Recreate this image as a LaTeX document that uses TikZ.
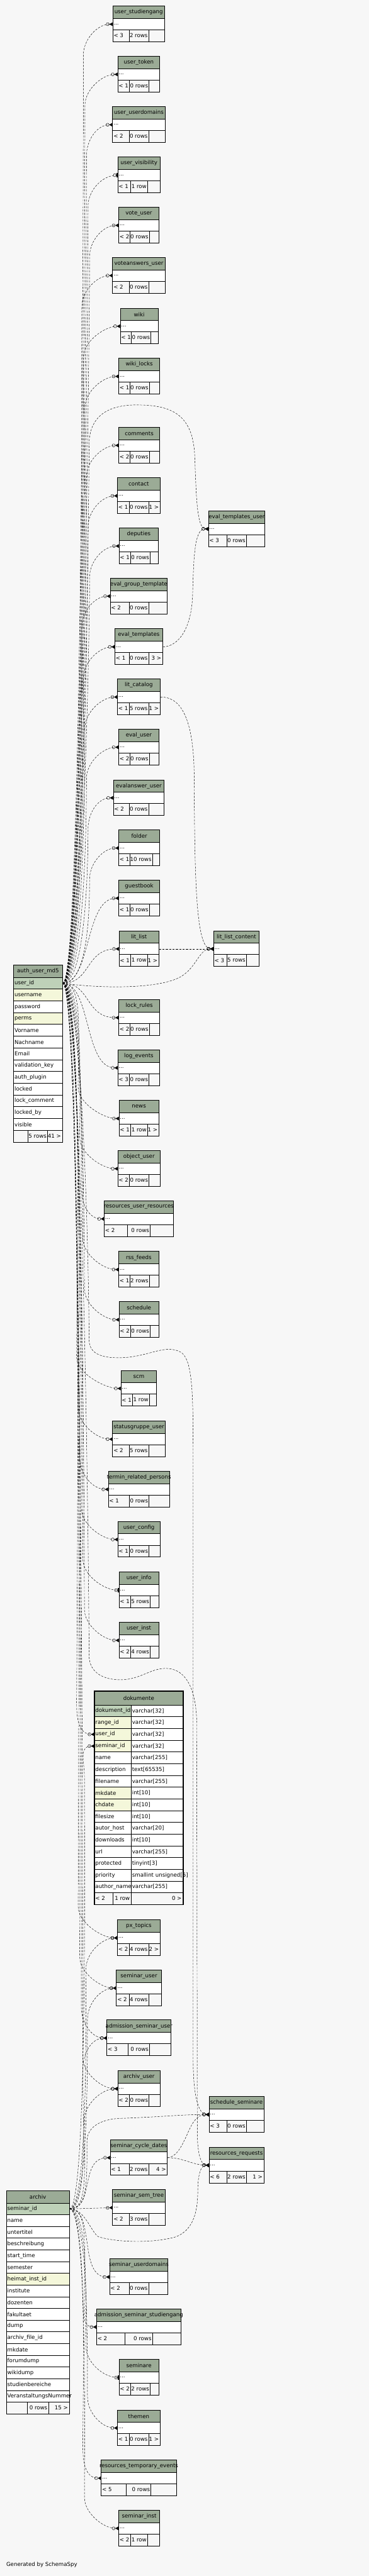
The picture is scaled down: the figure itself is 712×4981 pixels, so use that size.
\documentclass[tikz,border=0pt]{standalone}
\usepackage{fontspec}
\setmainfont{DejaVu Sans}
\usetikzlibrary{arrows.meta, calc}

\definecolor{bgcol}{HTML}{F7F7F7}
\definecolor{hdrcol}{HTML}{9BAB96}
\definecolor{pkcol}{HTML}{BED1B8}
\definecolor{idxcol}{HTML}{F4F7DA}

\begin{document}
\begin{tikzpicture}[x=1pt, y=-1pt,
    every node/.style={font=\fontsize{10.5}{12.5}\selectfont},
    hdr/.style={draw, fill=hdrcol, line width=1, minimum height=24, inner sep=0, anchor=north west},
    bodyrow/.style={draw, fill=white, line width=1, minimum height=22, inner sep=0, anchor=north west},
    footrow/.style={draw, fill=bgcol, line width=1, minimum height=23, inner sep=0, anchor=north west},
    cell/.style={draw, line width=1, inner sep=0, anchor=north west},
    txt/.style={inner xsep=2, inner ysep=1},
    rel/.style={line width=0.55, dash pattern=on 4pt off 2.5pt,
                -{Circle[open,length=6.5pt,width=6.5pt] Triangle[reversed,length=6pt,width=7pt]}},
    relone/.style={rel, -{Circle[open,length=6.5pt,width=6.5pt] Bar[width=8pt,line width=2pt]}},
]
\useasboundingbox[fill=bgcol] (0,0) rectangle (712,4981);

% small tables: name / left / top / right / divider 1 / divider 2 / title / parents / rows / children
\foreach \id/\xa/\ya/\xb/\da/\db/\ttl/\pa/\nr/\ch in {
  ustud/217.3/11.3/317.3/249.3/287.3/user\_studiengang/< 3/2 rows/,
  utoken/227/108.3/308/250/288/user\_token/< 1/0 rows/,
  uudom/217/205.7/318.3/249.3/287.3/user\_userdomains/< 2/0 rows/,
  uvis/227/303.3/308.7/252.3/285.3/user\_visibility/< 1/1 row/,
  vuser/228.7/400.3/306.3/250.7/288.7/vote\_user/< 2/0 rows/,
  vauser/217/497.3/318.3/249.3/287.3/voteanswers\_user/< 2/0 rows/,
  wiki/231.7/595.3/305/253.7/291.7/wiki/< 1/0 rows/,
  wlocks/228.7/692.3/308/250.7/288.7/wiki\_locks/< 1/0 rows/,
  comm/228.7/825.7/308/250.7/288.7/comments/< 2/0 rows/,
  contact/226.3/923.3/308.7/249.3/287.3/contact/< 1/0 rows/1 >,
  deput/229.3/1020.3/305.7/252.3/290.3/deputies/< 1/0 rows/,
  egt/212.3/1117.3/322.7/249.3/287.3/eval\_group\_template/< 2/0 rows/,
  etpl/221.3/1215.3/313.7/249.3/287.3/eval\_templates/< 1/0 rows/3 >,
  etu/402/987.3/511.3/438/476/eval\_templates\_user/< 3/0 rows/,
  litcat/226.3/1312.3/308.7/249.3/287.3/lit\_catalog/< 1/5 rows/1 >,
  euser/228.7/1409.3/306.3/250.7/288.7/eval\_user/< 2/0 rows/,
  eauser/218.3/1507.3/316.7/249.3/287.3/evalanswer\_user/< 2/0 rows/,
  folder/228.7/1604.3/308/250.7/294.7/folder/< 1/10 rows/,
  gbook/228.7/1701.3/308/250.7/288.7/guestbook/< 1/0 rows/,
  litlist/229.3/1799.3/306.3/252.3/285.3/lit\_list/< 1/1 row/1 >,
  llc/412/1799.3/500.3/438/476/lit\_list\_content/< 3/5 rows/,
  lrules/228.7/1932.3/308/250.7/288.7/lock\_rules/< 2/0 rows/,
  logev/227/2029.3/308/250/288/log\_events/< 3/0 rows/,
  news/229.3/2127.3/306.3/252.3/285.3/news/< 1/1 row/1 >,
  objuser/227/2224.3/308.7/250/288/object\_user/< 2/0 rows/,
  rur/200.7/2321.3/334.3/246.3/290.3/resources\_user\_resources/< 2/0 rows/,
  rss/228.7/2419.3/306.3/250.7/288.7/rss\_feeds/< 1/2 rows/,
  sched/229.3/2516.3/306.3/252.3/290.3/schedule/< 2/0 rows/,
  scm/233/2649.3/302/255.7/288.7/scm/< 1/1 row/,
  sgu/217/2747.3/318.3/249.3/287.3/statusgruppe\_user/< 2/5 rows/,
  trp/208.7/2844.3/327/249.3/288/termin\_related\_persons/< 1/0 rows/,
  ucfg/227/2941.3/308.7/250/288/user\_config/< 1/0 rows/,
  uinfo/229.3/3039.3/306.3/252.3/290.3/user\_info/< 1/5 rows/,
  uinst/229.3/3136.3/306.3/252.3/290.3/user\_inst/< 2/4 rows/,
  pxt/226.3/3711.7/308.7/249.3/287.3/px\_topics/< 2/4 rows/2 >,
  semuser/224.3/3808.7/311/249.3/287.3/seminar\_user/< 2/4 rows/,
  asu/206/3905.3/330/247.7/289/admission\_seminar\_user/< 3/0 rows/,
  auser/227/4003.3/308.7/250/288/archiv\_user/< 2/0 rows/,
  ss/403.3/4053.3/509/438/476/schedule\_seminare/< 3/0 rows/,
  scd/212.3/4136.7/322.7/249.3/287.3/seminar\_cycle\_dates/< 1/2 rows/4 >,
  rreq/403.3/4151.3/509/438/476/resources\_requests/< 6/2 rows/1 >,
  sst/217/4233.3/318.3/249.3/287.3/seminar\_sem\_tree/< 2/3 rows/,
  sud/211/4367.3/324/249.3/287.3/seminar\_userdomains/< 2/0 rows/,
  ass/186/4464/349/241/294.7/admission\_seminar\_studiengang/< 2/0 rows/,
  semi/229.3/4561.7/306.3/252.3/290.3/seminare/< 2/2 rows/,
  themen/226.3/4659.3/308.7/249.3/287.3/themen/< 1/0 rows/1 >,
  rte/195/4756.3/340.3/244/291.7/resources\_temporary\_events/< 5/0 rows/,
  seminst/228.7/4853.3/308/252.3/285.3/seminar\_inst/< 2/1 row/}{
  \node[hdr, minimum width={\xb-\xa}] (\id-h) at (\xa,\ya) {};
  \node (\id-t) at (\id-h) {\ttl};
  \node[bodyrow, minimum width={\xb-\xa}] (\id) at (\xa,\ya+24) {};
  \node[txt, anchor=west] (\id-d) at (\id.west) {...};
  \node[footrow, minimum width={\xb-\xa}] (\id-f) at (\xa,\ya+46) {};
  \draw[line width=1] (\da,\ya+46) -- (\da,\ya+69) (\db,\ya+46) -- (\db,\ya+69);
  \node[txt, anchor=west] (\id-p) at (\xa,\ya+57.5) {\pa};
  \node[txt, anchor=east] (\id-n) at (\db,\ya+57.5) {\nr};
  \node[txt, anchor=east] (\id-c) at (\xb,\ya+57.5) {\ch};
}

% auth_user_md5
\node[hdr, minimum width=94] (au-h) at (26,1865.3) {};
\node (au-t) at (au-h) {auth\_user\_md5};
\foreach \c/\f [count=\k from 0] in {user\_id/pkcol, username/idxcol, password/white, perms/idxcol,
    Vorname/white, Nachname/white, Email/white, validation\_key/white, auth\_plugin/white,
    locked/white, lock\_comment/white, locked\_by/white, visible/white}{
  \node[cell, fill=\f, minimum width=94, minimum height=22.75] (au-\k) at (26,1889.3+22.75*\k) {};
  \node[txt, anchor=west] (au-\k-x) at (au-\k.west) {\c};
}
\node[footrow, minimum width=94] (au-f) at (26,2185) {};
\draw[line width=1] (54,2185) -- (54,2208) (92,2185) -- (92,2208);
\node[txt, anchor=east] (au-n) at (92,2196.5) {5 rows};
\node[txt, anchor=east] (au-c) at (120,2196.5) {41 >};

% dokumente
\node[hdr, minimum width=171, minimum height=26.6] (dk-h) at (182,3269.7) {};
\node (dk-t) at (dk-h) {dokumente};
\foreach \c/\tp/\f [count=\k from 0] in {dokument\_id/varchar[32]/pkcol, range\_id/varchar[32]/idxcol,
    user\_id/varchar[32]/idxcol, seminar\_id/varchar[32]/idxcol, name/varchar[255]/white,
    description/text[65535]/white, filename/varchar[255]/white, mkdate/int[10]/idxcol,
    chdate/int[10]/idxcol, filesize/int[10]/white, autor\_host/varchar[20]/white,
    downloads/int[10]/white, url/varchar[255]/white, protected/tinyint[3]/white,
    priority/smallint unsigned[5]/white, author\_name/varchar[255]/white}{
  \node[cell, fill=\f, minimum width=71, minimum height=22.69] (dk-\k) at (182,3296.3+22.69*\k) {};
  \node[cell, fill=white, minimum width=100, minimum height=22.69] (dk-\k-t) at (253,3296.3+22.69*\k) {};
  \node[txt, anchor=west] (dk-\k-x) at (dk-\k.west) {\c};
  \node[txt, anchor=west] (dk-\k-y) at (dk-\k-t.west) {\tp};
}
\node[footrow, minimum width=171, minimum height=22.4] (dk-f) at (182,3659.3) {};
\draw[line width=1] (218.3,3659.3) -- (218.3,3681.7) (253,3659.3) -- (253,3681.7);
\node[txt, anchor=west] (dk-p) at (182,3670.5) {< 2};
\node[txt, anchor=east] (dk-n) at (253,3670.5) {1 row};
\node[txt, anchor=east] (dk-c) at (353,3670.5) {0 >};
\draw[line width=2] (dk-h.north west) rectangle (dk-f.south east);

% archiv
\node[hdr, minimum width=121.3] (ar-h) at (12,4235.3) {};
\node (ar-t) at (ar-h) {archiv};
\foreach \c/\f [count=\k from 0] in {seminar\_id/pkcol, name/white, untertitel/white, beschreibung/white,
    start\_time/white, semester/white, heimat\_inst\_id/idxcol, institute/white, dozenten/white,
    fakultaet/white, dump/white, archiv\_file\_id/white, mkdate/white, forumdump/white,
    wikidump/white, studienbereiche/white, VeranstaltungsNummer/white}{
  \node[cell, fill=\f, minimum width=121.3, minimum height=22.65] (ar-\k) at (12,4259.3+22.65*\k) {};
  \node[txt, anchor=west] (ar-\k-x) at (ar-\k.west) {\c};
}
\node[footrow, minimum width=121.3] (ar-f) at (12,4644.3) {};
\draw[line width=1] (53.3,4644.3) -- (53.3,4667.3) (93.7,4644.3) -- (93.7,4667.3);
\node[txt, anchor=east] (ar-n) at (93.7,4655.8) {0 rows};
\node[txt, anchor=east] (ar-c) at (133.3,4655.8) {15 >};

\node[anchor=west, inner sep=0] (gen) at (12,4959) {Generated by SchemaSpy};

% bundles of connectors
\coordinate (ubus) at (158,0);
\coordinate (dbus) at (148,0);
\coordinate (abus) at (160,0);

% auth_user_md5 -> tables above
\foreach \tg/\sty [count=\i] in {ustud/rel, utoken/rel, uudom/rel, uvis/relone, vuser/rel, vauser/rel,
    wiki/rel, wlocks/rel, comm/rel, contact/rel, deput/rel, egt/rel, etpl/rel, litcat/rel,
    euser/rel, eauser/rel, folder/rel}
  \draw[\sty] (au-0.east) .. controls +(40,0) and +(0,110) .. ($(ubus |- \tg.west)+({mod(\i,6)*3},60)$)
    .. controls +(0,-30) and +(-30,0) .. (\tg.west);

\draw[rel] (au-0.east) .. controls +(55,0) and +(-65,0) .. (gbook.west);
\draw[rel] (au-0.east) .. controls +(55,0) and +(-65,0) .. (litlist.west);
\draw[rel] (au-0.east) .. controls +(55,0) and +(-65,0) .. (lrules.west);
\draw[rel] (au-0.east) .. controls +(55,0) and +(-65,0) .. (logev.west);

% auth_user_md5 -> tables below
\foreach \tg/\sty [count=\i] in {news/rel, objuser/rel, rur/rel, rss/rel, sched/rel, scm/rel, sgu/rel,
    trp/rel, ucfg/rel, uinfo/relone, uinst/rel, dk-2/rel, pxt/rel, semuser/rel, asu/rel, auser/rel}
  \draw[\sty] (au-0.east) .. controls +(40,0) and +(0,-110) .. ($(dbus |- \tg.west)+({mod(\i,6)*3},-60)$)
    .. controls +(0,30) and +(-30,0) .. (\tg.west);

% archiv -> tables above
\foreach \tg/\sty [count=\i] in {dk-3/rel, pxt/rel, semuser/rel, asu/rel, auser/rel}
  \draw[\sty] (ar-0.east) .. controls +(35,0) and +(0,110) .. ($(abus |- \tg.west)+({mod(\i,4)*3},60)$)
    .. controls +(0,-30) and +(-30,0) .. (\tg.west);

\draw[rel] (ar-0.east) .. controls +(50,0) and +(-60,0) .. (scd.west);
\draw[rel] (ar-0.east) -- (sst.west);
\draw[rel] (ar-0.east) .. controls +(50,0) and +(-60,0) .. (sud.west);

% archiv -> tables below
\foreach \tg/\sty [count=\i] in {ass/rel, semi/relone, themen/rel, rte/rel, seminst/rel}
  \draw[\sty] (ar-0.east) .. controls +(35,0) and +(0,-110) .. ($(abus |- \tg.west)+({mod(\i,4)*3},-60)$)
    .. controls +(0,30) and +(-30,0) .. (\tg.west);

% right column
\draw[rel] (au-0.east) .. controls +(40,0) and +(0,110) .. (172,860) .. controls (172,800) and (215,783) .. (263,783)
  .. controls (330,783) and (372,800) .. (376,880) .. controls (379,960) and (380,1022) .. (etu.west);
\draw[rel] (etpl.east) .. controls (345,1250) and (370,1215) .. (372,1150) .. controls (374,1060) and (378,1022) .. (etu.west);

\draw[rel] (litcat.east) .. controls (345,1347) and (374,1380) .. (375,1500) .. controls (376,1700) and (378,1834) .. (llc.west);
\draw[rel] (litlist.east) -- (llc.west);
\draw[rel] (au-0.east) .. controls (200,1912) and (310,1912) .. (350,1888) .. controls (380,1870) and (385,1834) .. (llc.west);

\draw[rel] (au-0.east) .. controls +(40,0) and +(0,-110) .. (172,2590) .. controls (172,2620) and (200,2627) .. (240,2625)
  .. controls (290,2622) and (320,2598) .. (350,2615) .. controls (370,2630) and (373,2680) .. (373,2800)
  -- (373,3980) .. controls (373,4060) and (385,4088) .. (ss.west);
\draw[rel] (au-0.east) .. controls +(40,0) and +(0,-110) .. (172,3200) .. controls (172,3235) and (200,3248) .. (233,3248)
  .. controls (270,3248) and (290,3226) .. (320,3226) .. controls (350,3226) and (378,3250) .. (380,3330)
  -- (381,4120) .. controls (381,4165) and (388,4186) .. (rreq.west);
\draw[rel] (ar-0.east) .. controls +(35,0) and +(0,80) .. (168,4140) .. controls (168,4110) and (200,4097) .. (233,4096)
  .. controls (300,4094) and (360,4088) .. (ss.west);
\draw[rel] (scd.east) .. controls (345,4170) and (355,4140) .. (367,4115) .. controls (375,4098) and (385,4088) .. (ss.west);
\draw[rel] (scd.east) .. controls (355,4172) and (370,4186) .. (rreq.west);
\draw[rel] (ar-0.east) .. controls +(30,0) and +(-15,-10) .. (190,4325) .. controls (230,4337) and (300,4337) .. (340,4325)
  .. controls (372,4312) and (382,4280) .. (382,4235) .. controls (382,4205) and (388,4186) .. (rreq.west);
\end{tikzpicture}
\end{document}
